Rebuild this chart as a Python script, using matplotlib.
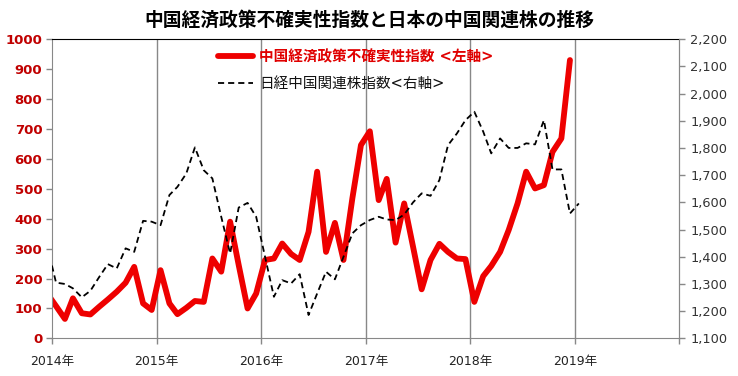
import numpy as np
import pandas as pd
import matplotlib
matplotlib.use("Agg")
import matplotlib.pyplot as plt

plt.rcParams['font.family'] = ['DejaVu Sans', 'Noto Sans CJK JP']

# monthly data, Dec 2013 .. Jan 2019 (mid-month)
dates = pd.date_range('2013-12-01', periods=62, freq='MS') + pd.Timedelta(days=14)

# 中国経済政策不確実性指数 (left axis), ends Dec 2018
epu = [150,
       108, 65, 134, 84, 80, 106, 130, 156, 186, 239, 117, 95,
       228, 117, 81, 102, 125, 122, 267, 223, 390, 245, 100, 150,
       262, 267, 317, 282, 262, 356, 557, 289, 386, 262, 468, 646,
       692, 462, 533, 320, 451, 306, 164, 262, 316, 289, 267, 265,
       122, 208, 242, 289, 362, 451, 557, 501, 512, 623, 668, 930,
       np.nan]

# 日経中国関連株指数 (right axis), ends Jan 2019
nikkei = [1440,
          1305, 1300, 1284, 1251, 1275, 1326, 1373, 1357, 1431, 1418, 1532, 1529,
          1516, 1627, 1657, 1706, 1802, 1718, 1688, 1547, 1412, 1581, 1598, 1547,
          1400, 1253, 1314, 1302, 1336, 1186, 1265, 1345, 1317, 1400, 1486, 1516,
          1535, 1547, 1537, 1535, 1555, 1600, 1633, 1624, 1682, 1810, 1853, 1902,
          1933, 1860, 1780, 1835, 1800, 1800, 1817, 1813, 1902, 1721, 1721, 1559,
          1596]

years = [2014, 2015, 2016, 2017, 2018, 2019, 2020]
year_labels = [f"{y}年" for y in years[:-1]] + [""]

title = "中国経済政策不確実性指数と日本の中国関連株の推移"
label_epu = "中国経済政策不確実性指数 <左軸>"
label_nikkei = "日経中国関連株指数<右軸>"

fig = plt.figure(figsize=(7.38, 3.76), dpi=100)
ax = fig.add_axes([0.0705, 0.100, 0.850, 0.796])
ax2 = ax.twinx()

red = '#EE0000'
grey = '#888888'

l1, = ax.plot(dates, epu, color=red, lw=4.2, solid_joinstyle='round',
              solid_capstyle='round', label=label_epu)
l2, = ax2.plot(dates, nikkei, color='black', lw=1.3, dashes=(3.4, 2.2), label=label_nikkei)

ax.set_xlim(pd.Timestamp('2014-01-01'), pd.Timestamp('2020-01-01'))
ax.set_ylim(0, 1000)
ax2.set_ylim(1100, 2200)

year_ticks = [pd.Timestamp(f'{y}-01-01') for y in years]
ax.set_xticks(year_ticks)
ax.set_xticklabels(year_labels, fontsize=9, color='#222222')
for t in year_ticks[1:-1]:
    ax.axvline(t, color=grey, lw=1, zorder=0)

ax.set_yticks(np.arange(0, 1001, 100))
ax.set_yticklabels([str(v) for v in range(0, 1001, 100)], fontsize=9.5,
                   fontweight='bold', color='#C00000')
ax2.set_yticks(np.arange(1100, 2201, 100))
ax2.set_yticklabels([f"{v:,}" for v in range(1100, 2201, 100)], fontsize=9.3,
                    color='#333333')

for side in ('left', 'right', 'bottom'):
    ax.spines[side].set_color(grey)
ax.spines['top'].set_color('black')
ax2.spines['left'].set_visible(False)
ax2.spines['bottom'].set_visible(False)
ax2.spines['top'].set_visible(False)
ax2.spines['right'].set_color(grey)
for a in (ax, ax2):
    a.tick_params(direction='out', color=grey, length=4, width=1)
ax.tick_params(axis='x', pad=8)
ax.tick_params(axis='y', pad=3)
ax2.tick_params(axis='y', pad=4)

leg = ax2.legend(handles=[l1, l2], loc='upper left', bbox_to_anchor=(0.265, 0.965),
                 frameon=False, handlelength=2.4, handletextpad=0.4,
                 labelspacing=0.8, borderpad=0, borderaxespad=0,
                 prop={'family': ['DejaVu Sans', 'Noto Sans CJK JP'], 'size': 10.5})
txt = leg.get_texts()
txt[0].set_color('#E00000')
txt[0].set_fontweight('bold')
txt[1].set_color('#111111')

fig.text(0.5, 0.945, title, ha='center', va='center', fontsize=13.5,
         fontweight='bold', family=['Noto Sans CJK JP', 'DejaVu Sans'])

fig.savefig('out.png', dpi=100)
